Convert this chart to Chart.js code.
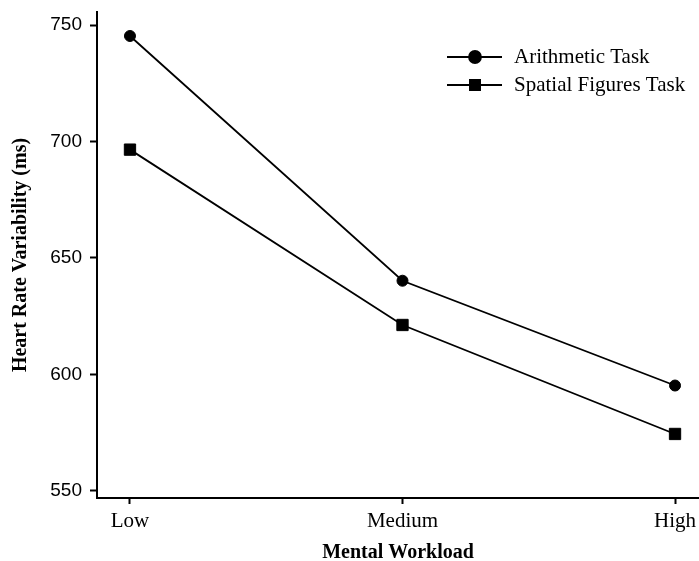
<!DOCTYPE html>
<html>
<head>
<meta charset="utf-8">
<script src="https://cdn.jsdelivr.net/npm/chart.js@4/dist/chart.umd.min.js"></script>
<style>
  html, body { margin: 0; padding: 0; background: #fff; }
  #wrap { width: 699px; height: 561px; }
</style>
</head>
<body>
<div id="wrap"><canvas id="c" width="699" height="561"></canvas></div>
<script>
// Workload levels on the x axis
const categories = ['Low', 'Medium', 'High'];
// Mean heart rate variability (ms) per workload level
const arithmeticTask = [745.3, 640.2, 595.2];
const spatialFiguresTask = [696.5, 621.2, 574.4];
// Value axis tick labels
const yTicks = [550, 600, 650, 700, 750];

const seriesNames = ['Arithmetic Task', 'Spatial Figures Task'];
const toPoints = vals => vals.map((v, i) => ({ x: i, y: v }));

// Legend drawn in the upper right of the plot area
const legendPlugin = {
  id: 'cornerLegend',
  afterDraw(chart) {
    const ctx = chart.ctx;
    const rows = [57, 85];
    ctx.save();
    chart.data.datasets.forEach((ds, i) => {
      const y = rows[i];
      ctx.strokeStyle = '#000';
      ctx.lineWidth = 1.8;
      ctx.beginPath();
      ctx.moveTo(447, y);
      ctx.lineTo(502, y);
      ctx.stroke();
      ctx.fillStyle = '#000';
      Chart.helpers.drawPoint(ctx, {
        pointStyle: ds.pointStyle,
        radius: ds.pointStyle === 'rect' ? 7.2 : 6,
        borderWidth: 1
      }, 475, y);
      ctx.fill();
      ctx.font = '21px "Liberation Serif"';
      ctx.textBaseline = 'middle';
      ctx.textAlign = 'left';
      ctx.fillText(ds.label, 514, y + 0.5);
    });
    ctx.restore();
  }
};

// Keep the plot area edges fixed regardless of label overhang
function noOverhang(scale) {
  scale.paddingLeft = 0;
  scale.paddingRight = 0;
  scale.paddingTop = 0;
  scale.paddingBottom = 0;
}

new Chart(document.getElementById('c'), {
  type: 'line',
  data: {
    datasets: [
      {
        label: seriesNames[0],
        data: toPoints(arithmeticTask),
        borderColor: '#000',
        backgroundColor: '#000',
        borderWidth: 1.8,
        pointStyle: 'circle',
        pointRadius: 5.5,
        pointBorderWidth: 1,
        pointHoverRadius: 5.5,
        clip: false
      },
      {
        label: seriesNames[1],
        data: toPoints(spatialFiguresTask),
        borderColor: '#000',
        backgroundColor: '#000',
        borderWidth: 1.8,
        pointStyle: 'rect',
        pointRadius: 8,
        pointBorderWidth: 1,
        pointHoverRadius: 8,
        clip: false
      }
    ]
  },
  options: {
    responsive: false,
    animation: false,
    events: [],
    layout: { autoPadding: false, padding: { top: 12, right: 0, left: 0, bottom: 0 } },
    plugins: {
      legend: { display: false },
      tooltip: { enabled: false }
    },
    scales: {
      x: {
        type: 'linear',
        min: -0.121,
        max: 2.088,
        afterBuildTicks(scale) {
          scale.ticks = categories.map((c, i) => ({ value: i }));
        },
        afterFit(scale) { scale.height = 63; noOverhang(scale); },
        ticks: {
          callback: v => categories[v],
          color: '#000',
          font: { family: 'Liberation Serif', size: 21, lineHeight: 1.1 },
          padding: 6,
          maxRotation: 0
        },
        grid: {
          drawOnChartArea: false,
          drawTicks: true,
          tickLength: 6,
          tickWidth: 2,
          tickColor: '#000'
        },
        border: { display: true, color: '#000', width: 2 },
        title: {
          display: true,
          text: 'Mental Workload',
          color: '#000',
          font: { family: 'Liberation Serif', size: 20, weight: 'bold', lineHeight: 0.8 },
          padding: { top: 0, bottom: 0 }
        }
      },
      y: {
        type: 'linear',
        min: 546.9,
        max: 755.6,
        afterBuildTicks(scale) {
          scale.ticks = yTicks.map(v => ({ value: v }));
        },
        afterFit(scale) { scale.width = 97; noOverhang(scale); },
        ticks: {
          color: '#000',
          font: { family: 'Liberation Sans', size: 19 },
          padding: 8
        },
        grid: {
          drawOnChartArea: false,
          drawTicks: true,
          tickLength: 7,
          tickWidth: 2,
          tickColor: '#000'
        },
        border: { display: true, color: '#000', width: 2 },
        title: {
          display: true,
          text: 'Heart Rate Variability (ms)',
          color: '#000',
          font: { family: 'Liberation Serif', size: 20, weight: 'bold', lineHeight: 1 },
          padding: { top: 11, bottom: 0 }
        }
      }
    }
  },
  plugins: [legendPlugin]
});
</script>
</body>
</html>
